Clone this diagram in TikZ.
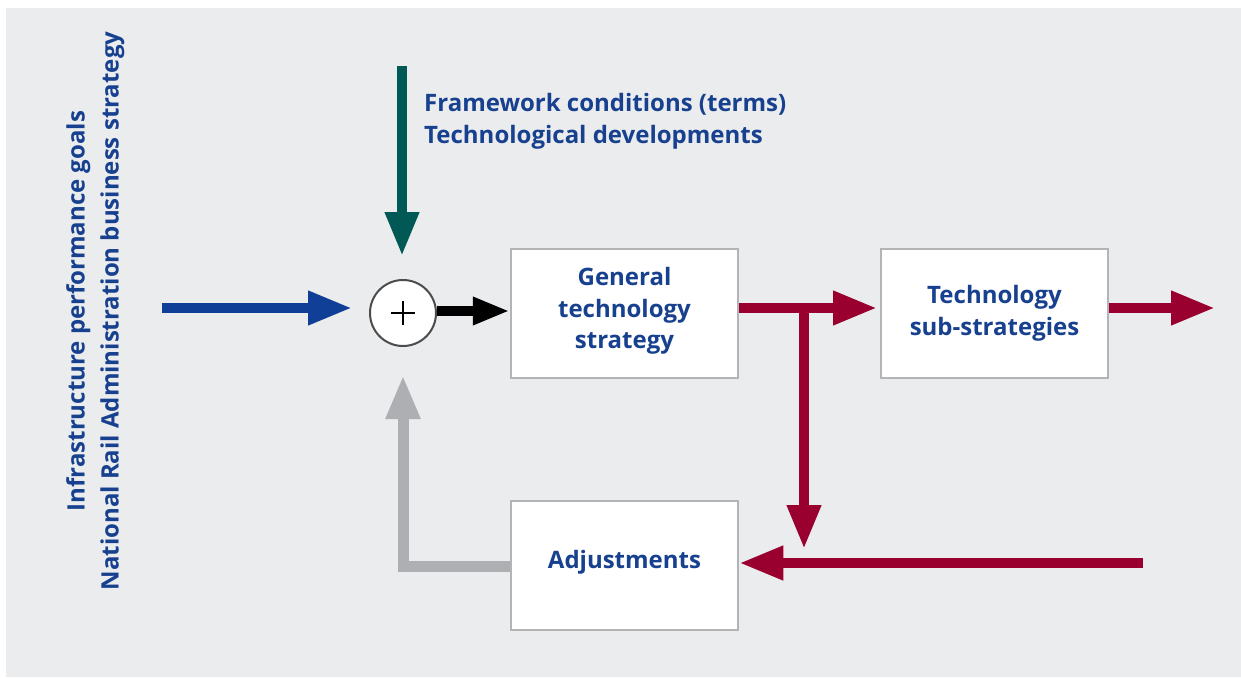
\documentclass[tikz,border=0pt]{standalone}
\usepackage{fontspec}
\setmainfont{Open Sans}
\usetikzlibrary{arrows.meta,calc}
\definecolor{bg}{HTML}{EBECEE}
\definecolor{txtblue}{HTML}{17408F}
\definecolor{arrblue}{HTML}{0F3F96}
\definecolor{arrgreen}{HTML}{005954}
\definecolor{arrred}{HTML}{990030}
\definecolor{arrgrey}{HTML}{ADAFB2}
\definecolor{boxgrey}{HTML}{B3B4B6}
\tikzset{
  boxnode/.style={draw=boxgrey, line width=2.5pt, fill=white, minimum width=227pt, minimum height=129pt, inner sep=0pt, align=center, text=txtblue, font=\fontsize{24}{31.5}\selectfont\bfseries},
  lbl/.style={text=txtblue, font=\fontsize{24}{32}\selectfont\bfseries, inner sep=0pt},
  fat/.style={line width=10pt, -{Triangle[length=44pt,width=32pt]}},
}
\begin{document}
\begin{tikzpicture}[x=1pt,y=-1pt]
\useasboundingbox (0,0) rectangle (1241,677);
\fill[bg] (6,8) rectangle (1241,677);
% nodes
\node[boxnode, text depth=11pt] (gen) at (624.5,313.5) {General\\technology\\strategy};
\node[boxnode] (sub) at (994.5,313.5) {Technology\\sub-strategies};
\node[boxnode, text height=19pt, text depth=13pt] (adj) at (624.5,565.5) {Adjustments};
\node[circle, draw=black!70, line width=2pt, fill=white, minimum size=66pt, inner sep=0pt] (sum) at (403,313) {};
\draw[line width=1.5pt] ($(sum.center)+(-12,0)$) -- ++(24,0);
\draw[line width=1.5pt] ($(sum.center)+(0,-12)$) -- ++(0,24);
\node[lbl, anchor=base west] (fw) at (424,111) {Framework conditions (terms)};
\node[lbl, anchor=base west] (td) at (424,143) {Technological developments};
\node[lbl, rotate=90, anchor=base] (ipg) at (84.5,311) {Infrastructure performance goals};
\node[lbl, rotate=90, anchor=base] (nra) at (118.5,311) {National Rail Administration business strategy};
% coordinates
\coordinate (bs) at (162,308);
\coordinate (bt) at (352,308);
\coordinate (gs) at (402,66);
\coordinate (gt) at (402,256);
\coordinate (rt1) at (877,308);
\coordinate (rbr) at (804,308);
\coordinate (rbt) at (804,549);
\coordinate (ro) at (1215,308);
\coordinate (rbs) at (1143,563);
\coordinate (grc) at (403,566);
\coordinate (grt) at (403,375);
\coordinate (bk) at (0,311);
% connectors
\draw[fat, arrblue] (bs) -- (bt);
\draw[fat, arrgreen] (gs) -- (gt);
\draw[line width=10pt, black, -{Triangle[length=37pt,width=26pt]}] (sum.east |- bk) -- (gen.west |- bk);
\draw[fat, arrred] (gen.east |- rbr) -- (rt1);
\draw[fat, arrred] (rbr) -- (rbt);
\draw[fat, arrred] (sub.east |- ro) -- (ro);
\draw[fat, arrred] (rbs) -- (adj.east |- rbs);
\draw[line width=11pt, arrgrey, -{Triangle[length=44pt,width=32pt]}] (adj.west |- grc) -- (grc) -- (grt);
\end{tikzpicture}
\end{document}
